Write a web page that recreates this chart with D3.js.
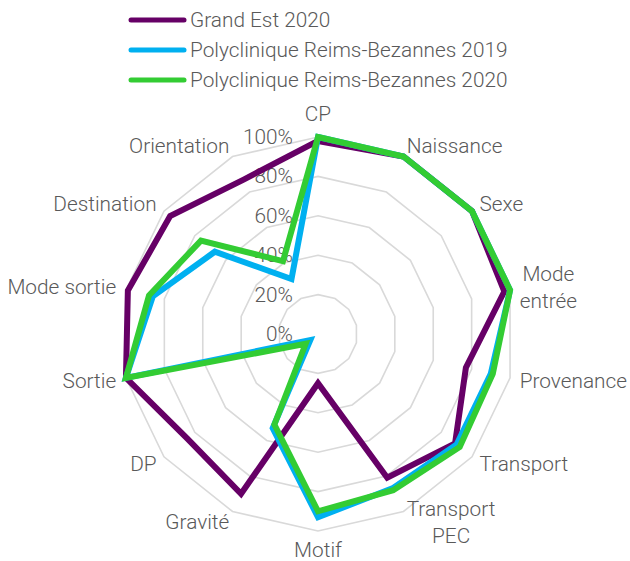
<!DOCTYPE html>
<html>
<head>
<meta charset="utf-8">
<script src="https://cdn.jsdelivr.net/npm/d3@7"></script>
<style>
  html, body { margin: 0; padding: 0; background: #fff; }
  svg text { font-family: Roboto, "Open Sans", sans-serif; font-weight: 300; fill: #595959; }
</style>
</head>
<body>
<svg id="chart" width="630" height="561"></svg>
<script>
const categories = [["CP"], ["Naissance"], ["Sexe"], ["Mode", "entrée"], ["Provenance"], ["Transport"], ["Transport", "PEC"], ["Motif"], ["Gravité"], ["DP"], ["Sortie"], ["Mode sortie"], ["Destination"], ["Orientation"]];
const seriesNames = ["Grand Est 2020", "Polyclinique Reims-Bezannes 2019", "Polyclinique Reims-Bezannes 2020"];
const grandEst2020 = [98, 100, 100, 97, 77, 89, 81, 25, 90, 85, 100, 99, 96, 87];
const prb2019 = [100, 100, 100, 100, 90, 90, 87, 93, 53, 5, 100, 86, 67, 31];
const prb2020 = [100, 100, 100, 100, 91, 92, 88, 90, 51, 8, 100, 88, 76, 41];
const tickValues = [0, 20, 40, 60, 80, 100];
const colors = ["#660066", "#00B0F0", "#33CC33"];

const svg = d3.select("#chart");
const cx = 318, cy = 334, R = 197;
const fs = 20.8;
const n = categories.length;
const angle = d3.scaleLinear().domain([0, n]).range([0, 2 * Math.PI]);
const r = d3.scaleLinear().domain([0, 100]).range([0, R]);

const pt = (i, v) => [cx + r(v) * Math.sin(angle(i)), cy - r(v) * Math.cos(angle(i))];

// grid rings
const g = svg.append("g");
tickValues.filter(t => t > 0).forEach(t => {
  const pts = d3.range(n).map(i => pt(i, t));
  g.append("path")
    .attr("d", d3.line()(pts) + "Z")
    .attr("fill", "none")
    .attr("stroke", "#D9D9D9")
    .attr("stroke-width", 1.6);
});

// tick labels
tickValues.forEach(t => {
  svg.append("text")
    .attr("x", cx - 25)
    .attr("y", cy - r(t))
    .attr("text-anchor", "end")
    .attr("dominant-baseline", "central")
    .attr("font-size", fs)
    .text(t + "%");
});

// series
const allSeries = [grandEst2020, prb2019, prb2020];
const radial = d3.lineRadial()
  .angle((d, i) => angle(i))
  .radius(d => r(d))
  .curve(d3.curveLinearClosed);
allSeries.forEach((s, k) => {
  svg.append("path")
    .attr("transform", `translate(${cx},${cy})`)
    .attr("d", radial(s))
    .attr("fill", "none")
    .attr("stroke", colors[k])
    .attr("stroke-width", 6)
    .attr("stroke-linejoin", "miter");
});

// category labels
const lineH = 27;
categories.forEach((lines, i) => {
  const a = angle(i);
  const s = Math.sin(a), c = Math.cos(a);
  const px = cx + (R + 12) * s;
  let py = cy - (R + 12) * c;
  const side = Math.abs(s) < 0.01 ? 0 : (s > 0 ? 1 : -1);
  if (side === 0) py += c > 0 ? -11 : 7;
  const grp = svg.append("g");
  const texts = lines.map((ln, j) => grp.append("text")
    .attr("y", py + (j - (lines.length - 1) / 2) * lineH)
    .attr("dominant-baseline", "central")
    .attr("text-anchor", "middle")
    .attr("font-size", fs)
    .text(ln));
  const w = d3.max(texts, t => t.node().getComputedTextLength());
  const centerX = side === 0 ? px : (side > 0 ? px - 2 + w / 2 : px + 2 - w / 2);
  texts.forEach(t => t.attr("x", centerX));
});

// legend
seriesNames.forEach((name, k) => {
  const y = 20 + k * 30;
  svg.append("line")
    .attr("x1", 131).attr("x2", 184)
    .attr("y1", y).attr("y2", y)
    .attr("stroke", colors[k])
    .attr("stroke-width", 5)
    .attr("stroke-linecap", "round");
  svg.append("text")
    .attr("x", 190).attr("y", y)
    .attr("dominant-baseline", "central")
    .attr("font-size", fs)
    .text(name);
});
</script>
</body>
</html>
